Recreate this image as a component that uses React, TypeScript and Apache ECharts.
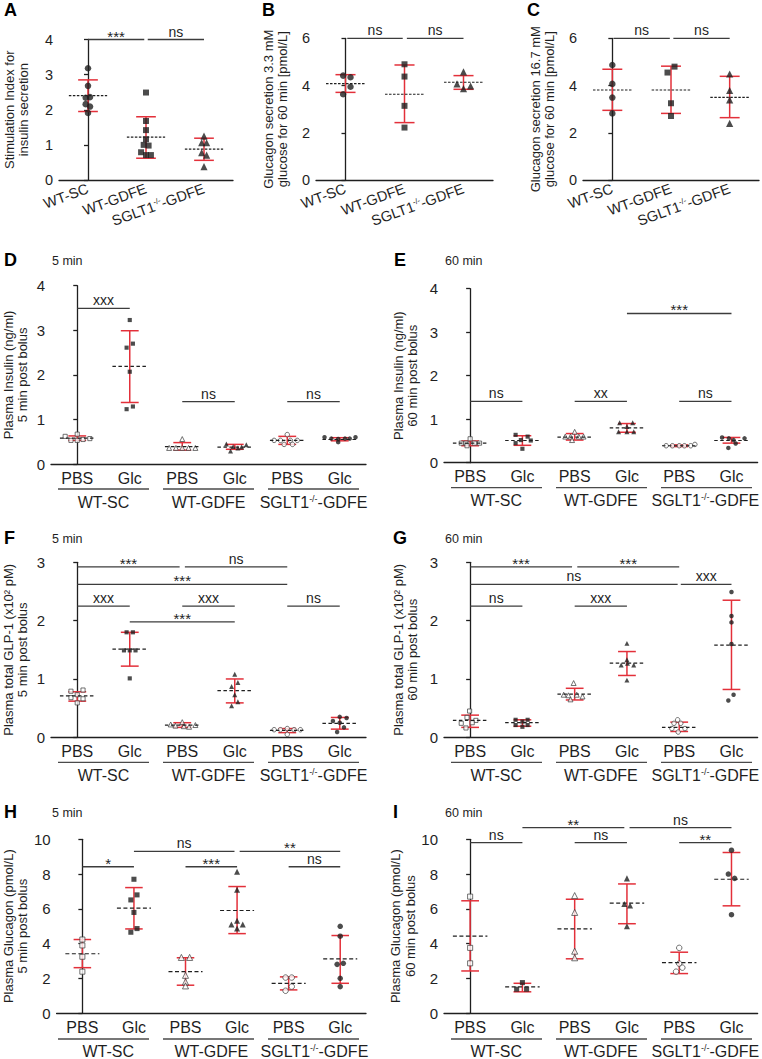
import React, { useEffect, useRef } from 'react';
import * as echarts from 'echarts';

const FONT = '"Liberation Sans", Arial, Helvetica, sans-serif';
const INK = '#1f1f1f';
const RED = '#e3303a';
const SIG_GRAY = '#3c3c3c';

type Sig = [number, number, number, string];

// ---------- category labels ----------
const GROUPS = ['WT-SC', 'WT-GDFE', 'SGLT1-/--GDFE'];
const TREATMENTS = ['PBS', 'Glc', 'PBS', 'Glc', 'PBS', 'Glc'];

// ---------- Panel A : stimulation index ----------
const A_VALUES = [
  [3.18, 2.68, 2.34, 2.36, 2.16, 2.09, 1.91],
  [2.49, 1.68, 1.42, 1.16, 1.0, 0.98, 0.79, 0.71, 0.71],
  [1.25, 1.06, 1.06, 0.78, 0.71, 0.38],
];
const A_JITTER = [
  [0, 0, -0.04, 0.035, -0.04, 0.035, 0],
  [0, 0, 0, 0, -0.04, 0.045, -0.085, 0, 0.085],
  [0, -0.04, 0.045, -0.04, 0.045, 0],
];
const A_MEAN = [2.4, 1.22, 0.88];
const A_LO = [1.95, 0.62, 0.56];
const A_HI = [2.85, 1.8, 1.19];
const A_SIG: Sig[] = [[0, 0.97, 4, '***'], [1.03, 2, 4, 'ns']];

// ---------- Panel B : glucagon 3.3 mM ----------
const B_VALUES = [
  [4.42, 4.35, 3.95, 3.63],
  [4.9, 4.38, 3.14, 2.22],
  [4.58, 4.07, 3.98, 3.87],
];
const B_JITTER = [
  [-0.04, 0.085, 0.085, -0.04],
  [0, 0, 0, 0],
  [0, -0.11, 0.12, 0],
];
const B_MEAN = [4.08, 3.63, 4.14];
const B_LO = [3.71, 2.43, 3.84];
const B_HI = [4.46, 4.87, 4.42];
const B_SIG: Sig[] = [[0.03, 0.97, 6, 'ns'], [1.04, 2, 6, 'ns']];

// ---------- Panel C : glucagon 16.7 mM ----------
const C_VALUES = [
  [4.87, 4.07, 3.49, 2.82],
  [4.8, 4.55, 3.25, 2.71],
  [4.49, 3.79, 3.39, 2.4],
];
const C_JITTER = [
  [0, 0, 0, 0],
  [0.06, -0.06, 0, 0],
  [0, 0, 0, 0],
];
const C_MEAN = [3.81, 3.81, 3.5];
const C_LO = [2.95, 2.82, 2.64];
const C_HI = [4.69, 4.82, 4.39];
const C_SIG: Sig[] = [[0.02, 0.98, 6, 'ns'], [1.04, 2, 6, 'ns']];

// ---------- Panel D : insulin 5 min ----------
const D_VALUES = [
  [0.62, 0.67, 0.53, 0.53, 0.55, 0.57],
  [3.23, 2.7, 2.61, 2.07, 1.29, 1.23],
  [0.56, 0.36, 0.36, 0.36, 0.36, 0.36],
  [0.45, 0.43, 0.39, 0.36, 0.38, 0.29],
  [0.66, 0.53, 0.53, 0.53, 0.53, 0.44, 0.44],
  [0.6, 0.57, 0.56, 0.57, 0.57, 0.6, 0.49],
];
const D_JITTER = [
  [-0.23, 0, -0.12, 0, 0.11, 0.24],
  [0, 0.06, -0.06, 0, 0.06, -0.06],
  [0, -0.25, -0.12, 0, 0.12, 0.25],
  [-0.16, 0.22, -0.03, 0.06, 0.13, -0.08],
  [0, -0.25, -0.13, 0.06, 0.19, -0.06, 0.1],
  [-0.29, -0.16, -0.03, 0.1, 0.19, 0.3, -0.03],
];
const D_MEAN = [0.58, 2.19, 0.39, 0.38, 0.53, 0.55];
const D_LO = [0.53, 1.38, 0.31, 0.33, 0.44, 0.52];
const D_HI = [0.63, 2.99, 0.48, 0.44, 0.62, 0.59];
const D_SIG: Sig[] = [[0, 1, 3.49, 'xxx'], [2, 3, 1.4, 'ns'], [4, 5, 1.4, 'ns']];

// ---------- Panel E : insulin 60 min ----------
const E_VALUES = [
  [0.55, 0.45, 0.45, 0.45, 0.45, 0.39],
  [0.64, 0.6, 0.52, 0.51, 0.45, 0.32],
  [0.71, 0.6, 0.6, 0.6, 0.6, 0.52],
  [0.92, 0.92, 0.83, 0.71, 0.71, 0.71],
  [0.39, 0.39, 0.39, 0.39, 0.39, 0.42],
  [0.58, 0.56, 0.52, 0.56, 0.44, 0.34],
];
const E_JITTER = [
  [0, -0.17, -0.08, 0.08, 0.18, -0.06],
  [-0.13, 0.1, -0.03, 0.16, -0.13, 0],
  [0, -0.18, -0.08, 0.08, 0.17, -0.05],
  [-0.14, 0.11, 0, -0.16, 0, 0.13],
  [-0.25, -0.13, 0, 0.1, 0.22, 0.3],
  [-0.18, -0.05, 0.04, 0.25, 0.08, -0.06],
];
const E_MEAN = [0.45, 0.51, 0.59, 0.8, 0.39, 0.51];
const E_LO = [0.39, 0.4, 0.52, 0.7, 0.37, 0.45];
const E_HI = [0.5, 0.62, 0.67, 0.9, 0.41, 0.58];
const E_SIG: Sig[] = [[0, 1, 1.41, 'ns'], [2, 3, 1.41, 'xx'], [4, 5, 1.41, 'ns'], [3, 5, 3.43, '***']];

// ---------- Panel F : GLP-1 5 min ----------
const F_VALUES = [
  [0.79, 0.81, 0.73, 0.68, 0.66, 0.59],
  [1.8, 1.8, 1.49, 1.49, 1.49, 1.01],
  [0.22, 0.2, 0.26, 0.18, 0.21, 0.19],
  [1.08, 0.94, 0.87, 0.73, 0.61, 0.54],
  [0.13, 0.13, 0.15, 0.13, 0.13, 0.05],
  [0.35, 0.33, 0.28, 0.25, 0.17, 0.09],
];
const F_JITTER = [
  [-0.12, 0.11, 0, -0.12, 0.11, 0],
  [-0.06, 0.06, -0.11, 0, 0.11, 0],
  [-0.22, -0.13, 0, 0.13, 0.25, 0.03],
  [0, 0.06, -0.06, 0, 0.06, -0.06],
  [-0.25, -0.13, 0, 0.13, 0.25, 0],
  [0, 0.13, -0.13, 0, 0.08, -0.05],
];
const F_MEAN = [0.71, 1.51, 0.21, 0.8, 0.12, 0.24];
const F_LO = [0.62, 1.22, 0.17, 0.59, 0.08, 0.14];
const F_HI = [0.78, 1.8, 0.25, 1.0, 0.15, 0.34];
const F_SIG: Sig[] = [
  [0, 1.95, 2.92, '***'], [2.05, 4, 2.92, 'ns'], [0, 4, 2.62, '***'],
  [0, 1, 2.25, 'xxx'], [2, 3, 2.25, 'xxx'], [4, 5, 2.25, 'ns'], [1, 3, 1.98, '***'],
];

// ---------- Panel G : GLP-1 60 min ----------
const G_VALUES = [
  [0.45, 0.34, 0.29, 0.25, 0.16, 0.24],
  [0.3, 0.3, 0.27, 0.21, 0.21, 0.18],
  [0.93, 0.73, 0.73, 0.7, 0.65, 0.72],
  [1.61, 1.33, 1.24, 1.24, 1.27, 0.98],
  [0.3, 0.24, 0.24, 0.15, 0.15, 0.09],
  [2.49, 2.08, 1.97, 1.6, 0.73, 0.63],
];
const G_JITTER = [
  [-0.01, -0.06, 0.11, 0.04, -0.08, -0.17],
  [-0.13, 0.1, 0, -0.13, 0.1, 0],
  [-0.02, -0.21, 0.04, 0.15, -0.08, -0.12],
  [0, 0, -0.11, 0.13, 0.01, 0],
  [-0.03, -0.1, 0.03, -0.14, 0.11, -0.02],
  [0, 0, 0, 0, 0.04, -0.06],
];
const G_MEAN = [0.29, 0.25, 0.74, 1.27, 0.17, 1.58];
const G_LO = [0.17, 0.19, 0.64, 1.06, 0.1, 0.82];
const G_HI = [0.38, 0.3, 0.84, 1.47, 0.26, 2.35];
const G_SIG: Sig[] = [
  [0, 1.95, 2.92, '***'], [2.05, 4, 2.92, '***'], [0, 3.97, 2.62, 'ns'],
  [4.03, 5, 2.62, 'xxx'], [0, 1, 2.25, 'ns'], [2, 3, 2.25, 'xxx'],
];

// ---------- Panel H : glucagon 5 min ----------
const H_VALUES = [
  [4.23, 3.89, 3.24, 2.38],
  [7.7, 6.8, 6.51, 5.79, 4.86, 4.65],
  [3.2, 3.2, 2.17, 1.79, 1.56],
  [8.13, 7.09, 5.31, 5.09, 5.09, 4.86],
  [2.04, 2.04, 1.52, 1.28],
  [4.99, 4.42, 2.8, 2.86, 2.0, 1.52],
];
const H_JITTER = [
  [0, 0, 0, 0],
  [0, 0.06, -0.06, 0, 0.06, -0.06],
  [-0.08, 0.08, 0, 0, 0],
  [0, 0, 0, -0.11, 0.11, 0],
  [-0.06, 0.06, 0.06, -0.06],
  [0, 0, -0.06, 0.06, 0, 0],
];
const H_MEAN = [3.41, 6.04, 2.38, 5.9, 1.71, 3.12];
const H_LO = [2.61, 4.84, 1.6, 4.57, 1.33, 1.71];
const H_HI = [4.23, 7.22, 3.18, 7.28, 2.08, 4.46];
const H_SIG: Sig[] = [
  [1, 2.95, 9.31, 'ns'], [3.05, 5, 9.31, '**'],
  [0, 1, 8.42, '*'], [2, 3, 8.42, '***'], [4, 5, 8.42, 'ns'],
];

// ---------- Panel I : glucagon 60 min ----------
const I_VALUES = [
  [6.7, 3.75, 2.86],
  [1.75, 1.37, 1.37],
  [6.76, 5.79, 3.56, 3.18],
  [7.75, 6.27, 6.19, 4.99],
  [3.75, 2.84, 2.61, 2.38],
  [9.37, 8.0, 7.75, 5.66],
];
const I_JITTER = [
  [0, 0, 0],
  [0, -0.11, 0.08],
  [0, 0, 0, 0],
  [0, -0.05, 0.06, 0],
  [0, 0, 0.06, -0.06],
  [0, -0.06, 0.06, 0],
];
const I_MEAN = [4.42, 1.5, 4.84, 6.32, 2.9, 7.7];
const I_LO = [2.42, 1.22, 3.12, 5.14, 2.27, 6.17];
const I_HI = [6.46, 1.71, 6.55, 7.43, 3.5, 9.24];
const I_SIG: Sig[] = [
  [1, 2.95, 10.67, '**'], [3.05, 5, 10.67, 'ns'],
  [0, 1, 9.81, 'ns'], [2, 3, 9.81, 'ns'], [4, 5, 9.81, '**'],
];

// ---------- marker styles ----------
const SYM3 = ['circle', 'rect', 'triangle'];
const OPEN3 = [false, false, false];
const SYM6 = ['rect', 'rect', 'triangle', 'triangle', 'circle', 'circle'];
const OPEN6 = [true, false, true, false, true, false];

interface PanelDef {
  letter: string; time: string;
  left: number; top: number; width: number; height: number;
  six: boolean; yMax: number; yStep: number; yName: string; nameGap: number;
  values: number[][]; jitter: number[][]; mean: number[]; lo: number[]; hi: number[]; sig: Sig[];
  size: number; letterX: number; letterY: number; dash: number[];
}

const PANELS: PanelDef[] = [
  { letter: 'A', time: '', left: 59, top: 39.5, width: 174, height: 140.5, six: false, yMax: 4, yStep: 1,
    yName: 'Stimulation Index for\ninsulin secretion', nameGap: 28,
    values: A_VALUES, jitter: A_JITTER, mean: A_MEAN, lo: A_LO, hi: A_HI, sig: A_SIG,
    size: 6.5, letterX: 4, letterY: 10, dash: [2.5, 1.5] },
  { letter: 'B', time: '', left: 316, top: 38.3, width: 177, height: 141.7, six: false, yMax: 6, yStep: 2,
    yName: 'Glucagon secretion 3.3 mM\nglucose for 60 min [pmol/L]', nameGap: 26,
    values: B_VALUES, jitter: B_JITTER, mean: B_MEAN, lo: B_LO, hi: B_HI, sig: B_SIG,
    size: 6.5, letterX: 262, letterY: 10, dash: [2.5, 1.5] },
  { letter: 'C', time: '', left: 583, top: 38.3, width: 176, height: 141.7, six: false, yMax: 6, yStep: 2,
    yName: 'Glucagon secretion 16.7 mM\nglucose for 60 min [pmol/L]', nameGap: 26,
    values: C_VALUES, jitter: C_JITTER, mean: C_MEAN, lo: C_LO, hi: C_HI, sig: C_SIG,
    size: 6.5, letterX: 527, letterY: 10, dash: [2.5, 1.5] },
  { letter: 'D', time: '5 min', left: 51, top: 285.7, width: 315, height: 178.3, six: true, yMax: 4, yStep: 1,
    yName: 'Plasma Insulin (ng/ml)\n5 min post bolus', nameGap: 21,
    values: D_VALUES, jitter: D_JITTER, mean: D_MEAN, lo: D_LO, hi: D_HI, sig: D_SIG,
    size: 4.5, letterX: 4, letterY: 260, dash: [3.5, 2.5] },
  { letter: 'E', time: '60 min', left: 444, top: 288.7, width: 315, height: 174, six: true, yMax: 4, yStep: 1,
    yName: 'Plasma Insulin (ng/ml)\n60 min post bolus', nameGap: 24,
    values: E_VALUES, jitter: E_JITTER, mean: E_MEAN, lo: E_LO, hi: E_HI, sig: E_SIG,
    size: 4.5, letterX: 394, letterY: 260, dash: [3.5, 2.5] },
  { letter: 'F', time: '5 min', left: 51, top: 562.3, width: 315, height: 175, six: true, yMax: 3, yStep: 1,
    yName: 'Plasma total GLP-1 (x10² pM)\n5 min post bolus', nameGap: 21,
    values: F_VALUES, jitter: F_JITTER, mean: F_MEAN, lo: F_LO, hi: F_HI, sig: F_SIG,
    size: 4.5, letterX: 4, letterY: 538, dash: [3.5, 2.5] },
  { letter: 'G', time: '60 min', left: 444, top: 562.3, width: 315, height: 175, six: true, yMax: 3, yStep: 1,
    yName: 'Plasma total GLP-1 (x10² pM)\n60 min post bolus', nameGap: 24,
    values: G_VALUES, jitter: G_JITTER, mean: G_MEAN, lo: G_LO, hi: G_HI, sig: G_SIG,
    size: 4.5, letterX: 393, letterY: 538, dash: [3.5, 2.5] },
  { letter: 'H', time: '5 min', left: 51, top: 839.3, width: 315, height: 174.7, six: true, yMax: 10, yStep: 2,
    yName: 'Plasma Glucagon (pmol/L)\n5 min post bolus', nameGap: 21,
    values: H_VALUES, jitter: H_JITTER, mean: H_MEAN, lo: H_LO, hi: H_HI, sig: H_SIG,
    size: 5.5, letterX: 4, letterY: 812, dash: [4, 2.5] },
  { letter: 'I', time: '60 min', left: 444, top: 839.3, width: 315, height: 174.7, six: true, yMax: 10, yStep: 2,
    yName: 'Plasma Glucagon (pmol/L)\n60 min post bolus', nameGap: 24,
    values: I_VALUES, jitter: I_JITTER, mean: I_MEAN, lo: I_LO, hi: I_HI, sig: I_SIG,
    size: 5.5, letterX: 393, letterY: 812, dash: [4, 2.5] },
];

const richFor = (fs: number) => ({
  n: { fontSize: fs, fontFamily: FONT, color: INK },
  s: { fontSize: Math.round(fs * 0.55), fontFamily: FONT, color: INK, verticalAlign: 'top', lineHeight: Math.round(fs * 0.6) },
});
const groupFmt = (v: string) => {
  const m = /^(SGLT1)(-\/-)(-.*)$/.exec(v);
  return m ? `{n|${m[1]}}{s|${m[2]}}{n|${m[3]}}` : `{n|${v}}`;
};

const errRender = (capHalf: number) => (params: any, api: any) => {
  const x = api.value(0);
  const lo = api.value(2), hi = api.value(3);
  const a = api.coord([x, lo]), b = api.coord([x, hi]);
  const l1 = api.coord([x - capHalf, lo]), r1 = api.coord([x + capHalf, lo]);
  const l2 = api.coord([x - capHalf, hi]), r2 = api.coord([x + capHalf, hi]);
  const st = { stroke: RED, lineWidth: 1.5 };
  return {
    type: 'group',
    children: [
      { type: 'line', shape: { x1: a[0], y1: a[1], x2: b[0], y2: b[1] }, style: st },
      { type: 'line', shape: { x1: l1[0], y1: l1[1], x2: r1[0], y2: r1[1] }, style: st },
      { type: 'line', shape: { x1: l2[0], y1: l2[1], x2: r2[0], y2: r2[1] }, style: st },
    ],
  };
};

const meanRender = (half: number, dash: number[]) => (params: any, api: any) => {
  const x = api.value(0), m = api.value(1);
  const a = api.coord([x - half, m]), b = api.coord([x + half, m]);
  return {
    type: 'line',
    shape: { x1: a[0], y1: a[1], x2: b[0], y2: b[1] },
    style: { stroke: INK, lineWidth: 1.2, lineDash: dash },
  };
};

const sigRender = (sig: Sig[]) => (params: any, api: any) => {
  const s = sig[params.dataIndex];
  const a = api.coord([s[0], s[2]]), b = api.coord([s[1], s[2]]);
  const star = s[3].indexOf('*') >= 0;
  return {
    type: 'group',
    children: [
      { type: 'line', shape: { x1: a[0], y1: a[1], x2: b[0], y2: b[1] }, style: { stroke: SIG_GRAY, lineWidth: 1.3 } },
      {
        type: 'text',
        style: {
          text: s[3], x: (a[0] + b[0]) / 2, y: a[1] + (star ? 4 : -1),
          align: 'center', verticalAlign: 'bottom', fontSize: star ? 15 : 14, fontFamily: FONT, fill: INK,
        },
      },
    ],
  };
};

function buildOption() {
  const grid: any[] = [], xAxis: any[] = [], yAxis: any[] = [], series: any[] = [], graphic: any[] = [];
  PANELS.forEach((p, pi) => {
    const n = p.six ? 6 : 3;
    grid.push({ left: p.left, top: p.top, width: p.width, height: p.height });
    xAxis.push({
      type: 'category', gridIndex: pi, position: 'bottom', data: p.six ? TREATMENTS : GROUPS, boundaryGap: true,
      axisLine: { lineStyle: { color: INK, width: 1.3 } },
      axisTick: { alignWithLabel: true, length: 4, lineStyle: { color: INK, width: 1.3 } },
      axisLabel: p.six
        ? { interval: 0, margin: 6, fontSize: 16, color: INK, fontFamily: FONT }
        : { interval: 0, rotate: 20, margin: 8, fontSize: 14.5, color: INK, fontFamily: FONT, formatter: groupFmt, rich: richFor(14.5) },
      splitLine: { show: false },
    });
    const vIdx = xAxis.length;
    xAxis.push({ type: 'value', gridIndex: pi, position: 'top', min: -0.5, max: n - 0.5, show: false });
    if (p.six) {
      xAxis.push({
        type: 'category', gridIndex: pi, position: 'bottom', data: GROUPS, boundaryGap: true,
        axisLine: { show: false }, axisTick: { show: false }, splitLine: { show: false },
        axisLabel: { interval: 0, margin: 30, fontSize: 16, color: INK, fontFamily: FONT, formatter: groupFmt, rich: richFor(16) },
      });
    }
    yAxis.push({
      type: 'value', gridIndex: pi, min: 0, max: p.yMax, interval: p.yStep,
      axisLine: { show: true, lineStyle: { color: INK, width: 1.3 } },
      axisTick: { show: true, length: 4, lineStyle: { color: INK, width: 1.3 } },
      axisLabel: { margin: 6, fontSize: p.six ? 15 : 14.5, color: INK, fontFamily: FONT },
      splitLine: { show: false },
      name: p.yName, nameLocation: 'middle', nameGap: p.nameGap, nameRotate: 90,
      nameTextStyle: { fontSize: 13, lineHeight: 14.5, color: INK, fontFamily: FONT },
    });

    series.push({
      type: 'custom', coordinateSystem: 'cartesian2d', xAxisIndex: vIdx, yAxisIndex: pi, z: 2, silent: true,
      data: p.mean.map((m, i) => [i, m, p.lo[i], p.hi[i]]), encode: { x: 0, y: [1, 2, 3] },
      renderItem: errRender(0.17),
    });
    const syms = p.six ? SYM6 : SYM3;
    const opens = p.six ? OPEN6 : OPEN3;
    p.values.forEach((vals, gi) => {
      const sym = syms[gi];
      const sz = sym === 'rect' ? p.size * 0.92 : sym === 'triangle' ? p.size * 1.1 : p.size;
      series.push({
        type: 'scatter', xAxisIndex: vIdx, yAxisIndex: pi, z: 3, silent: true,
        symbol: sym, symbolSize: sz,
        data: vals.map((v, k) => [gi + p.jitter[gi][k], v]),
        itemStyle: opens[gi] ? { color: '#ffffff', borderColor: '#3a3a3a', borderWidth: 0.9 } : { color: INK },
      });
    });
    series.push({
      type: 'custom', coordinateSystem: 'cartesian2d', xAxisIndex: vIdx, yAxisIndex: pi, z: 4, silent: true,
      data: p.mean.map((m, i) => [i, m]), encode: { x: 0, y: 1 },
      renderItem: meanRender(0.33, p.dash),
    });
    series.push({
      type: 'custom', coordinateSystem: 'cartesian2d', xAxisIndex: vIdx, yAxisIndex: pi, z: 4, silent: true,
      data: p.sig.map((s) => [s[0], s[1], s[2]]), encode: { x: [0, 1], y: 2 },
      renderItem: sigRender(p.sig),
    });

    graphic.push({
      type: 'text', x: p.letterX, y: p.letterY, silent: true,
      style: { text: p.letter, fontSize: 18, fontWeight: 'bold', fontFamily: FONT, fill: '#000', verticalAlign: 'middle' },
    });
    if (p.time) {
      graphic.push({
        type: 'text', x: p.left + 1, y: p.letterY + 1, silent: true,
        style: { text: p.time, fontSize: 12.5, fontFamily: FONT, fill: INK, verticalAlign: 'middle' },
      });
    }
    if (p.six) {
      const cw = p.width / 6;
      const y = p.top + p.height + 25;
      for (let g = 0; g < 3; g++) {
        graphic.push({
          type: 'line', silent: true,
          shape: { x1: p.left + 2 * g * cw + 7, y1: y, x2: p.left + (2 * g + 2) * cw - 7, y2: y },
          style: { stroke: '#4a4a4a', lineWidth: 1.3 },
        });
      }
    }
  });
  return {
    animation: false,
    backgroundColor: '#ffffff',
    textStyle: { fontFamily: FONT },
    grid, xAxis, yAxis, series, graphic,
  };
}

export default function App() {
  const ref = useRef<HTMLDivElement>(null);
  useEffect(() => {
    document.body.style.margin = '0';
    if (!ref.current) return;
    const chart = echarts.init(ref.current, undefined, { renderer: 'svg' });
    chart.setOption(buildOption() as any);
    return () => chart.dispose();
  }, []);
  return <div ref={ref} style={{ width: 762, height: 1059, background: '#fff' }} />;
}
